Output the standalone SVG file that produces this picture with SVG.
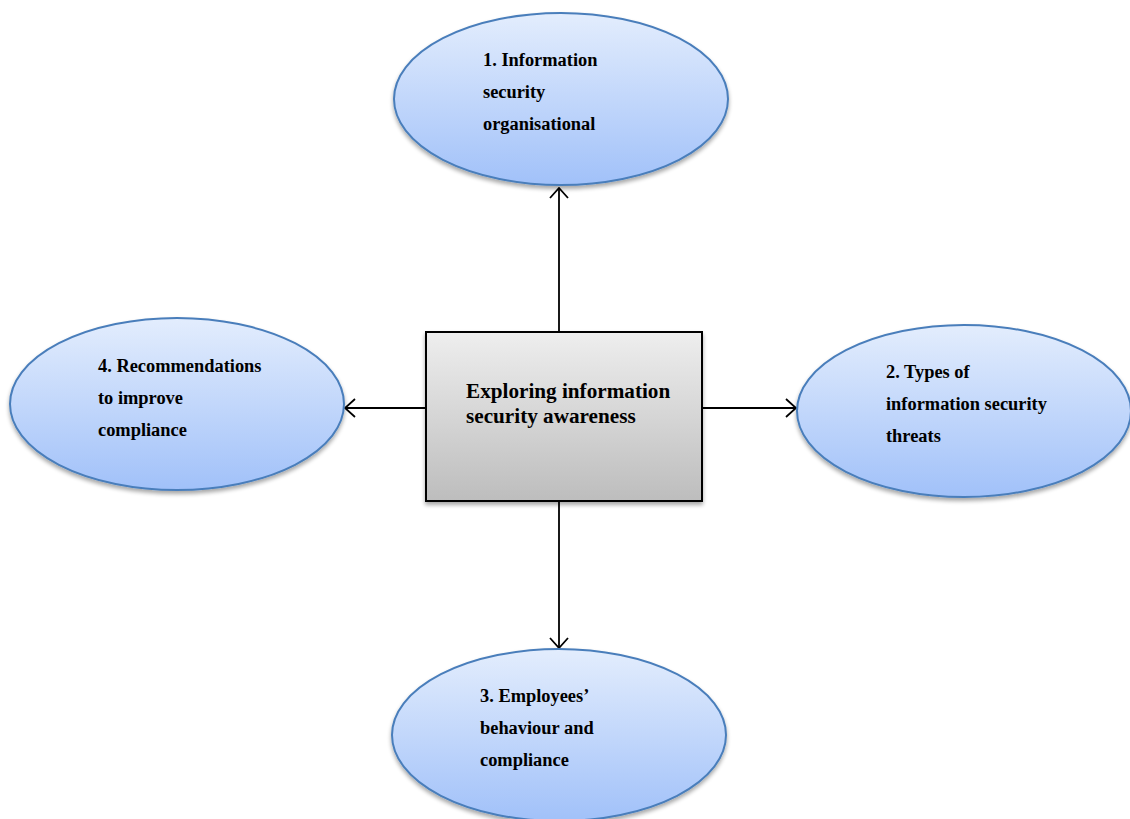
<svg xmlns="http://www.w3.org/2000/svg" width="1130" height="819" viewBox="0 0 1130 819">
<style>
.ell{fill:url(#gb);stroke:#4a7ebb;stroke-width:2;filter:url(#sh)}
.box{fill:url(#gg);stroke:#000;stroke-width:2;filter:url(#sh)}
.lbl{font-family:"Liberation Serif","Times New Roman",serif;font-weight:bold;font-size:18.4px;fill:#000}
.ctr{font-family:"Liberation Serif","Times New Roman",serif;font-weight:bold;font-size:21.2px;fill:#000}
.con{stroke:#000;stroke-width:1.8;fill:none;marker-end:url(#arr)}
</style>
<defs>
<linearGradient id="gb" x1="0" y1="0" x2="0" y2="1">
<stop offset="0" stop-color="#e3edfd"/>
<stop offset="1" stop-color="#a1c1f9"/>
</linearGradient>
<linearGradient id="gg" x1="0" y1="0" x2="0" y2="1">
<stop offset="0" stop-color="#eeeeee"/>
<stop offset="1" stop-color="#bdbdbd"/>
</linearGradient>
<filter id="sh" x="-10%" y="-10%" width="120%" height="125%">
<feGaussianBlur in="SourceAlpha" stdDeviation="2"/>
<feOffset dx="0" dy="3" result="b"/>
<feComponentTransfer><feFuncA type="linear" slope="0.35"/></feComponentTransfer>
<feMerge><feMergeNode/><feMergeNode in="SourceGraphic"/></feMerge>
</filter>
<marker id="arr" viewBox="0 0 12 20" refX="11" refY="10" markerWidth="12" markerHeight="20" markerUnits="userSpaceOnUse" orient="auto">
<path d="M1,1 L11,10 L1,19" fill="none" stroke="#000" stroke-width="1.8"/>
</marker>
</defs>
<g id="connectors">
<line class="con" x1="559" y1="331" x2="559" y2="188"/>
<line class="con" x1="559" y1="502" x2="559" y2="648"/>
<line class="con" x1="426" y1="408" x2="345" y2="408"/>
<line class="con" x1="702" y1="408" x2="796" y2="408"/>
</g>
<g id="center">
<rect class="box" x="426" y="332" width="276" height="169"/>
<text class="ctr" x="466" y="398">Exploring information</text>
<text class="ctr" x="466" y="423">security awareness</text>
</g>
<g id="node1">
<ellipse class="ell" cx="561" cy="99" rx="167" ry="86"/>
<text class="lbl" x="483" y="66">1. Information</text>
<text class="lbl" x="483" y="98">security</text>
<text class="lbl" x="483" y="130">organisational</text>
</g>
<g id="node2">
<ellipse class="ell" cx="964" cy="411" rx="167" ry="86"/>
<text class="lbl" x="886" y="378">2. Types of</text>
<text class="lbl" x="886" y="410">information security</text>
<text class="lbl" x="886" y="442">threats</text>
</g>
<g id="node3">
<ellipse class="ell" cx="559" cy="735" rx="167" ry="86"/>
<text class="lbl" x="480" y="702">3. Employees’</text>
<text class="lbl" x="480" y="734">behaviour and</text>
<text class="lbl" x="480" y="766">compliance</text>
</g>
<g id="node4">
<ellipse class="ell" cx="177" cy="404" rx="167" ry="86"/>
<text class="lbl" x="98" y="372">4. Recommendations</text>
<text class="lbl" x="98" y="404">to improve</text>
<text class="lbl" x="98" y="436">compliance</text>
</g>
</svg>
